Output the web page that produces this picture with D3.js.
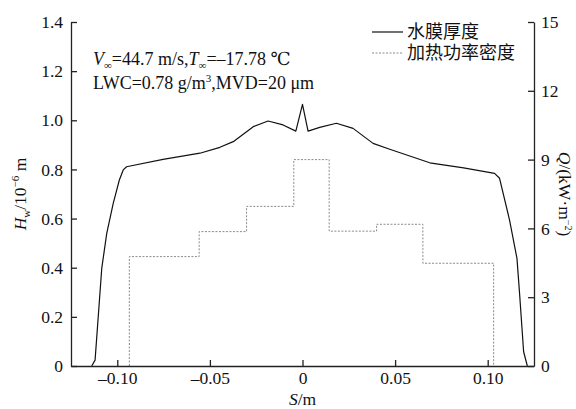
<!DOCTYPE html>
<html>
<head>
<meta charset="utf-8">
<script src="https://cdn.jsdelivr.net/npm/d3@7"></script>
<style>
  html, body { margin: 0; padding: 0; background: #fff; }
  svg { display: block; }
  svg text { font-family: "Liberation Serif", "Times New Roman", "DejaVu Serif", serif; }
  svg text.cjk { font-family: "Liberation Serif", "Noto Sans CJK SC", sans-serif; }
</style>
</head>
<body>
<div id="chart"></div>
<script>
// Water film thickness (left axis) and heating power density (right axis) vs S.
const filmS = [-0.1138, -0.1120, -0.1084, -0.1057, -0.1022, -0.0989, -0.0968, -0.0950, -0.0753,
    -0.0554, -0.0446, -0.0374, -0.0266, -0.0186, -0.0105, -0.0036, 0, 0.0030, 0.0093, 0.0183,
    0.0273, 0.0381, 0.0471, 0.0687, 0.0870, 0.1037, 0.1064, 0.1118, 0.1158, 0.1172, 0.1194, 0.1214];
const filmH = [0, 0.024, 0.397, 0.540, 0.662, 0.757, 0.798, 0.811, 0.841,
    0.866, 0.890, 0.913, 0.974, 0.997, 0.981, 0.956, 1.065, 0.956, 0.971, 0.988,
    0.967, 0.906, 0.882, 0.827, 0.806, 0.784, 0.764, 0.594, 0.438, 0.296, 0.058, 0];

// Heater zone edges and power density per zone
const heatEdges = [-0.0935, -0.0558, -0.0302, -0.0047, 0.0144, 0.040, 0.065, 0.1032];
const heatQ = [4.77, 5.86, 6.96, 9.0, 5.88, 6.18, 4.48];

const xTicks = [-0.10, -0.05, 0, 0.05, 0.10];
const hTicks = [0, 0.2, 0.4, 0.6, 0.8, 1.0, 1.2, 1.4];
const qTicks = [0, 3, 6, 9, 12, 15];
const legendLabels = ['水膜厚度', '加热功率密度'];

const W = 576, H = 409;
const margin = { top: 22, right: 42, bottom: 43, left: 71 };
const iw = W - margin.left - margin.right;
const ih = H - margin.top - margin.bottom;

const svg = d3.select('#chart').append('svg').attr('width', W).attr('height', H);
const g = svg.append('g').attr('transform', `translate(${margin.left},${margin.top})`);

const x = d3.scaleLinear().domain([-0.125, 0.125]).range([0, iw]);
const yH = d3.scaleLinear().domain([0, 1.4]).range([ih, 0]);
const yQ = d3.scaleLinear().domain([0, 15]).range([ih, 0]);

const fmtMinus = s => s.replace('-', '\u2013');

// heating power (dashed steps)
const stepPts = [[heatEdges[0], 0]];
heatQ.forEach((q, i) => stepPts.push([heatEdges[i], q]));
stepPts.push([heatEdges[heatEdges.length - 1], 0]);

g.append('path')
    .datum(stepPts)
    .attr('fill', 'none')
    .attr('stroke', '#8a8a8a')
    .attr('stroke-width', 1)
    .attr('stroke-dasharray', '2,1.5')
    .attr('d', d3.line().x(d => x(d[0])).y(d => yQ(d[1])).curve(d3.curveStepAfter));

// water film thickness
g.append('path')
    .datum(filmS.map((s, i) => [s, filmH[i]]))
    .attr('fill', 'none')
    .attr('stroke', '#111')
    .attr('stroke-width', 1.2)
    .attr('stroke-linejoin', 'round')
    .attr('d', d3.line().x(d => x(d[0])).y(d => yH(d[1])));

// axes
const styleAxis = sel => {
    sel.attr('font-family', null);
    sel.selectAll('.domain').attr('stroke', '#222').attr('stroke-width', 1.3);
    sel.selectAll('.tick line').attr('stroke', '#222').attr('stroke-width', 1.3);
    sel.selectAll('.tick text').attr('font-size', 17.5).attr('fill', '#111');
};

g.append('g')
    .attr('transform', `translate(0,${ih})`)
    .call(d3.axisBottom(x).tickValues(xTicks).tickSizeInner(-6).tickSizeOuter(0).tickPadding(6)
        .tickFormat(d => d === 0 ? '0' : fmtMinus(d.toFixed(2))))
    .call(styleAxis);

g.append('g')
    .call(d3.axisLeft(yH).tickValues(hTicks).tickSizeInner(-6).tickSizeOuter(0).tickPadding(8)
        .tickFormat(d => d === 0 ? '0' : d.toFixed(1)))
    .call(styleAxis);

g.append('g')
    .attr('transform', `translate(${iw},0)`)
    .call(d3.axisRight(yQ).tickValues(qTicks).tickSizeInner(-6).tickSizeOuter(0).tickPadding(7)
        .tickFormat(d3.format('d')))
    .call(styleAxis);

// axis titles
const xTitle = svg.append('text')
    .attr('x', margin.left + x(0)).attr('y', 405)
    .attr('text-anchor', 'middle').attr('font-size', 17.5).attr('fill', '#111');
xTitle.append('tspan').attr('font-style', 'italic').text('S');
xTitle.append('tspan').text('/m');

const yTitle = svg.append('text')
    .attr('transform', `translate(26,${margin.top + ih / 2}) rotate(-90)`)
    .attr('text-anchor', 'middle').attr('font-size', 17.5).attr('fill', '#111');
yTitle.append('tspan').attr('font-style', 'italic').text('H');
yTitle.append('tspan').attr('font-size', 11).attr('dy', 4).text('w');
yTitle.append('tspan').attr('dy', -4).text('/10');
yTitle.append('tspan').attr('font-size', 11).attr('dy', -7).text('\u22126');
yTitle.append('tspan').attr('dy', 7).text(' m');

const qTitle = svg.append('text')
    .attr('transform', `translate(559,${margin.top + ih / 2}) rotate(90)`)
    .attr('text-anchor', 'middle').attr('font-size', 17.5).attr('fill', '#111');
qTitle.append('tspan').attr('font-style', 'italic').text('Q');
qTitle.append('tspan').text('/(kW\u00b7m');
qTitle.append('tspan').attr('font-size', 10).attr('dy', -6).text('\u22122');
qTitle.append('tspan').attr('dy', 6).text(')');

// condition annotation
const note1 = svg.append('text').attr('x', 93).attr('y', 65).attr('font-size', 18).attr('fill', '#111');
note1.append('tspan').attr('font-style', 'italic').text('V');
note1.append('tspan').attr('font-size', 11).attr('dy', 4).text('\u221e');
note1.append('tspan').attr('dy', -4).text('=44.7 m/s,');
note1.append('tspan').attr('font-style', 'italic').text('T');
note1.append('tspan').attr('font-size', 11).attr('dy', 4).text('\u221e');
note1.append('tspan').attr('dy', -4).text('=\u201317.78 \u2103');

const note2 = svg.append('text').attr('x', 93).attr('y', 89).attr('font-size', 18).attr('fill', '#111');
note2.append('tspan').text('LWC=0.78 g/m');
note2.append('tspan').attr('font-size', 11).attr('dy', -7).text('3');
note2.append('tspan').attr('dy', 7).text(',MVD=20 \u03bcm');

// legend
const legend = svg.append('g').attr('transform', 'translate(372,32)');
legendLabels.forEach((label, i) => {
    const row = legend.append('g').attr('transform', `translate(0,${i * 21})`);
    row.append('line')
        .attr('x1', 0).attr('x2', 31).attr('y1', 0).attr('y2', 0)
        .attr('stroke', i === 0 ? '#111' : '#8a8a8a')
        .attr('stroke-width', i === 0 ? 1.2 : 1)
        .attr('stroke-dasharray', i === 0 ? null : '2,1.5');
    row.append('text')
        .attr('class', 'cjk')
        .attr('x', 35).attr('y', 6)
        .attr('font-size', 18)
        .attr('fill', '#111')
        .text(label);
});
</script>
</body>
</html>
